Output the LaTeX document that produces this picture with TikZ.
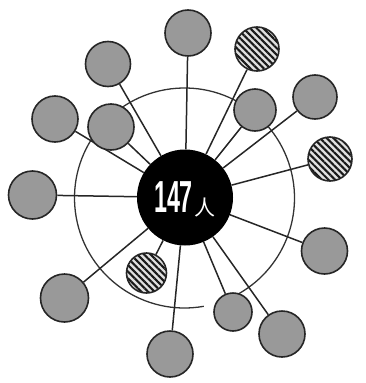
\documentclass[tikz,border=0pt]{standalone}
\usepackage{fontspec}
\newfontfamily\numfont{Liberation Sans}
\newfontfamily\cjkfont{Noto Sans CJK SC}
\usetikzlibrary{patterns.meta,backgrounds}
\tikzset{
  sat/.style={circle, draw=black!85, line width=1.6pt, fill=black!40, inner sep=0pt},
  hatch/.style={circle, draw=black!85, line width=1.6pt, inner sep=0pt,
    preaction={fill=black!12},
    pattern={Lines[angle=-45,distance=4.7pt,line width=2.1pt]}, pattern color=black!90},
  hub/.style={circle, fill=black, minimum size=96pt, inner sep=0pt, text=white},
  link/.style={line width=1.5pt, draw=black!85},
  ring/.style={line width=1.3pt, draw=black!80},
}
\begin{document}
\begin{tikzpicture}[x=1pt,y=-1pt]
\useasboundingbox (0,0) rectangle (366,383);
\node[hub] (c) at (185,197.5) {\scalebox{0.53}[1.02]{\fontsize{44}{44}\selectfont\bfseries\numfont 147}\hspace{2pt}\raisebox{-3pt}[0pt][0pt]{\fontsize{21}{21}\selectfont\cjkfont 人}};
\node[sat,   minimum size=46pt] (s1)  at (188,33)    {};
\node[hatch, minimum size=44pt] (s2)  at (257,49)    {};
\node[sat,   minimum size=45pt] (s3)  at (108,64)    {};
\node[sat,   minimum size=42pt] (s4)  at (255,110)   {};
\node[sat,   minimum size=44pt] (s5)  at (315,97)    {};
\node[sat,   minimum size=46pt] (s6)  at (55,119)    {};
\node[sat,   minimum size=46pt] (s7)  at (111,127)   {};
\node[hatch, minimum size=44pt] (s8)  at (330,159)   {};
\node[sat,   minimum size=48pt] (s9)  at (32.5,195)  {};
\node[sat,   minimum size=46pt] (s10) at (324.5,251) {};
\node[hatch, minimum size=40pt] (s11) at (146.5,273) {};
\node[sat,   minimum size=48pt] (s12) at (64.5,298)  {};
\node[sat,   minimum size=46pt] (s13) at (170,354)   {};
\node[sat,   minimum size=38pt] (s14) at (233,312)   {};
\node[sat,   minimum size=46pt] (s15) at (282,334)   {};
\begin{scope}[on background layer]
  \draw[ring] (184.5,198) ++(79.9:110) arc[start angle=79.9, end angle=433.5, radius=110];
  \foreach \s in {s1,s2,s3,s4,s5,s6,s7,s8,s9,s10,s11,s12,s13,s14,s15}
    \draw[link] (c) -- (\s);
\end{scope}
\end{tikzpicture}
\end{document}
